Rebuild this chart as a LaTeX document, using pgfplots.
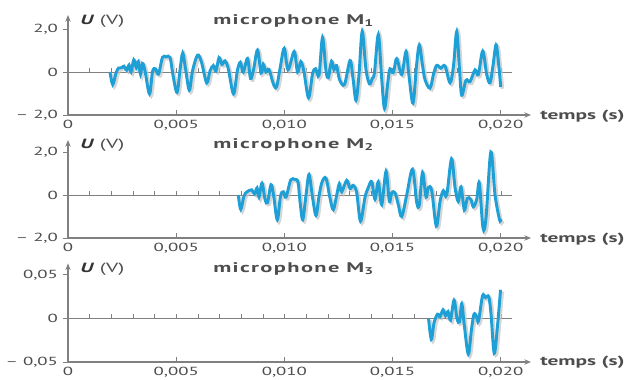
\documentclass[border=0pt]{standalone}
\usepackage{pgfplots}
\usepackage{pgfplotstable}
\pgfplotsset{compat=1.18}
\usepackage{fontspec}
\setmainfont{PT Sans}[FakeStretch=1.6]
\usetikzlibrary{arrows.meta}
\definecolor{curve}{HTML}{1EA0D7}
\definecolor{axgray}{HTML}{808080}
\definecolor{txt}{HTML}{4D4D4D}
\definecolor{shadow}{HTML}{C4C4C4}

\pgfplotstableread{
t U
0.001941 0.00
0.002066 -0.58
0.002219 -0.05
0.002334 0.18
0.002482 0.20
0.002588 0.27
0.002713 0.08
0.002820 0.32
0.002912 0.00
0.003041 0.56
0.003157 0.20
0.003249 0.48
0.003351 -0.10
0.003444 0.40
0.003559 0.05
0.003767 -1.02
0.003906 0.02
0.004044 0.15
0.004183 -0.10
0.004368 0.68
0.004530 0.70
0.004715 0.68
0.004853 -0.15
0.005038 -0.95
0.005177 0.10
0.005302 0.88
0.005431 0.15
0.005607 -0.85
0.005755 0.05
0.005986 0.78
0.006171 0.45
0.006411 -0.51
0.006564 0.05
0.006716 0.30
0.006841 0.05
0.006980 0.67
0.007118 0.35
0.007257 0.52
0.007409 0.15
0.007650 -1.02
0.007825 0.05
0.007964 0.45
0.008103 0.00
0.008297 0.63
0.008436 -0.30
0.008574 0.10
0.008759 1.02
0.008921 -0.05
0.009027 0.35
0.009152 0.00
0.009291 0.12
0.009489 -0.55
0.009637 -0.70
0.009799 0.15
0.009993 1.10
0.010169 0.10
0.010455 0.95
0.010608 0.00
0.010761 0.48
0.010908 0.00
0.011117 -1.20
0.011301 -0.10
0.011440 0.15
0.011602 -0.15
0.011764 1.60
0.011925 0.05
0.012032 -0.26
0.012180 0.50
0.012295 0.10
0.012411 0.30
0.012549 -0.35
0.012780 -0.58
0.013035 0.53
0.013173 -0.30
0.013312 -1.32
0.013451 -0.10
0.013599 1.88
0.013774 0.10
0.013936 -0.55
0.014066 -0.30
0.014167 0.00
0.014343 1.74
0.014491 -0.20
0.014629 -1.70
0.014791 -0.40
0.014883 0.15
0.015036 -0.03
0.015193 0.62
0.015424 -0.12
0.015623 0.95
0.015762 -0.20
0.015947 -1.45
0.016108 0.30
0.016238 1.25
0.016386 0.30
0.016501 -0.36
0.016732 -0.75
0.016894 -0.10
0.017042 0.31
0.017227 0.18
0.017426 0.28
0.017657 -0.50
0.017819 0.30
0.017966 1.88
0.018096 0.10
0.018198 -1.08
0.018396 -0.38
0.018581 -0.45
0.018812 0.10
0.018965 -0.12
0.019168 0.97
0.019353 -0.12
0.019506 -0.50
0.019644 0.30
0.019783 1.26
0.019899 0.40
0.020000 -0.70
}\dataA

\pgfplotstableread{
t U
0.007872 0.00
0.007983 -0.67
0.008135 -0.05
0.008274 0.15
0.008491 0.24
0.008620 0.05
0.008736 0.33
0.008828 -0.10
0.008967 0.55
0.009106 -0.20
0.009221 -0.35
0.009383 0.48
0.009499 0.00
0.009674 -1.15
0.009822 -0.05
0.009952 0.15
0.010076 -0.10
0.010294 0.70
0.010492 0.72
0.010631 0.60
0.010724 -0.30
0.010848 -1.15
0.011001 0.00
0.011140 0.95
0.011301 -0.10
0.011463 -0.95
0.011602 -0.05
0.011740 0.60
0.011925 0.78
0.012110 -0.15
0.012263 -0.68
0.012420 0.00
0.012540 0.52
0.012651 0.15
0.012882 0.68
0.013035 0.30
0.013187 0.45
0.013344 0.10
0.013520 -1.22
0.013728 -0.10
0.013881 0.35
0.014038 0.62
0.014190 -0.20
0.014343 0.62
0.014500 -0.45
0.014699 1.10
0.014851 -0.30
0.014962 0.10
0.015115 0.10
0.015267 -0.45
0.015424 -1.00
0.015655 0.00
0.015924 1.20
0.016118 -0.35
0.016238 -0.45
0.016386 1.05
0.016547 -0.10
0.016654 0.35
0.016811 0.20
0.017024 -1.45
0.017195 -0.30
0.017347 0.20
0.017504 0.00
0.017726 1.68
0.017888 0.35
0.018040 -0.30
0.018165 0.38
0.018318 -0.70
0.018456 -0.15
0.018614 -0.20
0.018734 -0.55
0.018891 -0.20
0.019011 0.55
0.019182 -1.55
0.019321 -1.05
0.019543 2.00
0.019737 0.00
0.019945 -1.15
0.020000 -1.12
}\dataB

\pgfplotstableread{
t U
0.016663 0.000
0.016793 -0.024
0.016917 -0.005
0.017079 0.005
0.017195 0.002
0.017333 0.010
0.017449 0.003
0.017564 0.008
0.017680 -0.002
0.017842 0.021
0.017980 0.000
0.018096 -0.004
0.018198 0.017
0.018327 -0.010
0.018503 -0.041
0.018651 -0.012
0.018766 0.005
0.018882 0.002
0.018974 -0.003
0.019159 0.026
0.019298 0.024
0.019446 0.025
0.019552 0.005
0.019700 -0.040
0.019853 -0.008
0.019991 0.033
}\dataC

\pgfplotsset{
 panel/.style={
   scale only axis, width=347.25pt, anchor=south west,
   xmin=0, xmax=0.0214,
   axis lines*=left,
   axis line style={axgray, line width=0.9pt, -{Stealth[length=5pt,width=4pt]}},
   xtick={0,0.005,0.01,0.015,0.02},
   xticklabels={0,{0,005},{0,010},{0,015},{0,020}},
   scaled x ticks=false, scaled y ticks=false,
   tick style={axgray, line width=0.7pt},
   major tick length=3.5pt,
   tick align=inside,
   ytick style={xshift=-3.5pt},
   ticklabel style={font=\fontsize{8.8}{10}\selectfont, text=txt},
   yticklabel style={xshift=-4pt},
   /pgf/number format/assume math mode=true,
   clip=false,
 },
 zl/.style={
   scale only axis, width=333pt, anchor=south west,
   xmin=0, xmax=0.0205,
   axis x line*=middle, axis y line=none,
   axis line style={axgray, line width=0.7pt},
   xtick={0.001,0.002,0.003,0.004,0.005,0.006,0.007,0.008,0.009,0.010,0.011,0.012,0.013,0.014,0.015,0.016,0.017,0.018,0.019,0.020},
   xticklabels={}, ytick=\empty,
   scaled x ticks=false, scaled y ticks=false,
   tick style={axgray, line width=0.6pt},
   major tick length=3pt, tick align=inside,
 },
 sig/.style={curve, line width=2.2pt, smooth, tension=0.55, no marks},
 shd/.style={shadow, line width=2.6pt, smooth, tension=0.55, no marks, xshift=1.3pt, yshift=-1.3pt, opacity=0.7},
}

\begin{document}
\begin{tikzpicture}
\useasboundingbox (0,0) rectangle (470.25pt,284.25pt);

% Panel 1
\begin{axis}[zl, at={(51pt,198pt)}, height=75pt, ymin=-2, ymax=2.65]
\end{axis}
\begin{axis}[panel, at={(51pt,198pt)}, height=75pt, ymin=-2, ymax=2.65,
  ytick={-2,0,2}, yticklabels={{– 2,0},0,{2,0}}]
\addplot[shd] table[x=t,y=U] {\dataA};
\addplot[sig] table[x=t,y=U] {\dataA};
\end{axis}

% Panel 2
\begin{axis}[zl, at={(51pt,105.75pt)}, height=73.5pt, ymin=-2, ymax=2.56]
\end{axis}
\begin{axis}[panel, at={(51pt,105.75pt)}, height=73.5pt, ymin=-2, ymax=2.56,
  ytick={-2,0,2}, yticklabels={{– 2,0},0,{2,0}}]
\addplot[shd] table[x=t,y=U] {\dataB};
\addplot[sig] table[x=t,y=U] {\dataB};
\end{axis}

% Panel 3
\begin{axis}[zl, at={(51pt,12.75pt)}, height=73.9pt, ymin=-0.05, ymax=0.0632]
\end{axis}
\begin{axis}[panel, at={(51pt,12.75pt)}, height=73.9pt, ymin=-0.05, ymax=0.0632,
  ytick={-0.05,0,0.05}, yticklabels={{– 0,05},0,{0,05}}]
\addplot[shd] table[x=t,y=U] {\dataC};
\addplot[sig] table[x=t,y=U] {\dataC};
\end{axis}

\foreach \yy/\n in {268.5/1, 175.5/2, 82.5/3}{
  \node[anchor=west, inner sep=0pt, text=txt, font=\fontsize{10}{12}\selectfont] at (60pt,\yy pt) {\textcolor{black!80}{\textbf{\textit{U}}} (V)};
  \node[anchor=west, inner sep=0pt, text=txt, font=\bfseries\fontsize{10.5}{12}\selectfont\addfontfeatures{LetterSpace=10}] at (159.75pt,\yy pt) {microphone M\textsubscript{\n}};
}
\foreach \yy in {197.25, 105, 12.75}{
  \node[anchor=west, inner sep=0pt, text=txt, font=\bfseries\fontsize{10}{12}\selectfont] at (405pt,\yy pt) {temps (s)};
}
\end{tikzpicture}
\end{document}
